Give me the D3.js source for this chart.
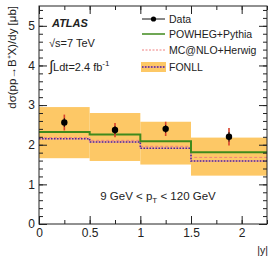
<!DOCTYPE html>
<html>
<head>
<meta charset="utf-8">
<script src="https://cdn.jsdelivr.net/npm/d3@7"></script>
<style>
  body { margin: 0; background: #fff; }
  text { font-family: "Liberation Sans", Arial, sans-serif; fill: #222; }
  .axis path { display: none; }
  .axis line { stroke: #222; }
  .axis text { font-size: 12px; fill: #222; font-family: "Liberation Sans", Arial, sans-serif; }
</style>
</head>
<body>
<div id="chart"></div>
<script>
// Bin edges in |y| and per-bin values
const binEdges = [0, 0.5, 1, 1.5, 2.25];
const dataX = [0.25, 0.75, 1.25, 1.875];
const dataY = [2.56, 2.37, 2.40, 2.20];
const dataErr = [0.20, 0.18, 0.18, 0.22];
const dataStatErr = [0.11, 0.10, 0.10, 0.12];
const powheg = [2.32, 2.26, 2.09, 1.81];
const mcatnlo = [2.18, 2.11, 1.96, 1.68];
const fonll = [2.15, 2.07, 1.91, 1.59];
const fonllHi = [2.95, 2.80, 2.58, 2.18];
const fonllLo = [1.66, 1.59, 1.50, 1.22];
const xTicks = [0, 0.5, 1, 1.5, 2];
const yTicks = [0, 1, 2, 3, 4, 5];

const width = 271, height = 258;
const margin = {top: 6, right: 4, bottom: 34, left: 39};
const innerW = width - margin.left - margin.right;
const innerH = height - margin.top - margin.bottom;

const svg = d3.select('#chart')
    .append('svg')
    .attr('width', width)
    .attr('height', height);

const g = svg.append('g')
    .attr('transform', `translate(${margin.left},${margin.top})`);

const xScale = d3.scaleLinear().domain([0, 2.25]).range([0, innerW]);
const yScale = d3.scaleLinear().domain([0, 5.5]).range([innerH, 0]);

// FONLL uncertainty band
const bins = d3.range(fonll.length);
g.selectAll('.band')
    .data(bins)
    .enter()
    .append('rect')
    .attr('x', i => xScale(binEdges[i]))
    .attr('width', i => xScale(binEdges[i + 1]) - xScale(binEdges[i]))
    .attr('y', i => yScale(fonllHi[i]))
    .attr('height', i => yScale(fonllLo[i]) - yScale(fonllHi[i]))
    .attr('fill', '#fdc866');

// Step lines
const step = d3.line()
    .x(d => xScale(d[0]))
    .y(d => yScale(d[1]))
    .curve(d3.curveStepAfter);

function stepPoints(vals) {
    const pts = vals.map((v, i) => [binEdges[i], v]);
    pts.push([binEdges[binEdges.length - 1], vals[vals.length - 1]]);
    return pts;
}

g.append('path')
    .attr('d', step(stepPoints(mcatnlo)))
    .attr('fill', 'none')
    .attr('stroke', '#f08080')
    .attr('stroke-width', 1)
    .attr('stroke-dasharray', '3,2');

g.append('path')
    .attr('d', step(stepPoints(fonll)))
    .attr('fill', 'none')
    .attr('stroke', '#ee9a9a')
    .attr('stroke-width', 1.6);

g.append('path')
    .attr('d', step(stepPoints(fonll)))
    .attr('fill', 'none')
    .attr('stroke', '#4a3090')
    .attr('stroke-width', 1.6)
    .attr('stroke-dasharray', '1.5,1.5');

g.append('path')
    .attr('d', step(stepPoints(powheg)))
    .attr('fill', 'none')
    .attr('stroke', '#3f8a1c')
    .attr('stroke-width', 2);

// Data points with error bars
const pts = g.selectAll('.pt')
    .data(bins)
    .enter()
    .append('g');

pts.append('line')
    .attr('x1', i => xScale(dataX[i]))
    .attr('x2', i => xScale(dataX[i]))
    .attr('y1', i => yScale(dataY[i] + dataErr[i]))
    .attr('y2', i => yScale(dataY[i] - dataErr[i]))
    .attr('stroke', '#d8402a')
    .attr('stroke-width', 1.6);

pts.append('line')
    .attr('x1', i => xScale(dataX[i]))
    .attr('x2', i => xScale(dataX[i]))
    .attr('y1', i => yScale(dataY[i] + dataStatErr[i]))
    .attr('y2', i => yScale(dataY[i] - dataStatErr[i]))
    .attr('stroke', '#111')
    .attr('stroke-width', 1);

pts.append('circle')
    .attr('cx', i => xScale(dataX[i]))
    .attr('cy', i => yScale(dataY[i]))
    .attr('r', 3.2)
    .attr('fill', '#000');

// Axes with inward ticks on all four sides
const xMinor = d3.range(0, 2.26, 0.25);
const yMinor = d3.range(0, 5.51, 0.2);
const fmt = d3.format('');

g.append('g').attr('class', 'axis')
    .attr('transform', `translate(0,${innerH})`)
    .call(d3.axisBottom(xScale).tickValues(xTicks).tickSize(-8).tickPadding(4).tickFormat(fmt));
g.append('g').attr('class', 'axis')
    .attr('transform', `translate(0,${innerH})`)
    .call(d3.axisBottom(xScale).tickValues(xMinor).tickSize(-4).tickFormat(''));
g.append('g').attr('class', 'axis')
    .call(d3.axisTop(xScale).tickValues(xTicks).tickSize(-8).tickFormat(''));
g.append('g').attr('class', 'axis')
    .call(d3.axisTop(xScale).tickValues(xMinor).tickSize(-4).tickFormat(''));

g.append('g').attr('class', 'axis')
    .call(d3.axisLeft(yScale).tickValues(yTicks).tickSize(-8).tickPadding(4).tickFormat(fmt));
g.append('g').attr('class', 'axis')
    .call(d3.axisLeft(yScale).tickValues(yMinor).tickSize(-4).tickFormat(''));
g.append('g').attr('class', 'axis')
    .attr('transform', `translate(${innerW},0)`)
    .call(d3.axisRight(yScale).tickValues(yTicks).tickSize(-8).tickFormat(''));
g.append('g').attr('class', 'axis')
    .attr('transform', `translate(${innerW},0)`)
    .call(d3.axisRight(yScale).tickValues(yMinor).tickSize(-4).tickFormat(''));

g.append('rect')
    .attr('width', innerW)
    .attr('height', innerH)
    .attr('fill', 'none')
    .attr('stroke', '#222')
    .attr('stroke-width', 1);

// Axis titles
svg.append('text')
    .attr('transform', 'translate(16,6) rotate(-90)')
    .attr('text-anchor', 'end')
    .style('font-size', '11.5px')
    .text('dσ(pp→B⁺X)/dy [μb]');

svg.append('text')
    .attr('x', 268)
    .attr('y', 254)
    .attr('text-anchor', 'end')
    .style('font-size', '10.5px')
    .text('|y|');

// Labels inside the plot
svg.append('text')
    .attr('x', 52).attr('y', 27)
    .style('font-size', '11px')
    .style('font-weight', 'bold')
    .style('font-style', 'italic')
    .text('ATLAS');

svg.append('text')
    .attr('x', 49).attr('y', 47)
    .style('font-size', '11px')
    .text('√s=7 TeV');

const lumi = svg.append('text')
    .attr('x', 49).attr('y', 71)
    .style('font-size', '11px');
lumi.append('tspan').style('font-size', '15px').text('∫');
lumi.append('tspan').text('Ldt=2.4 fb');
lumi.append('tspan').attr('dy', -5).style('font-size', '8px').text('-1');

const ptLabel = svg.append('text')
    .attr('x', 158).attr('y', 200)
    .attr('text-anchor', 'middle')
    .style('font-size', '11.5px');
ptLabel.append('tspan').text('9 GeV < p');
ptLabel.append('tspan').attr('dy', 3).style('font-size', '8px').text('T');
ptLabel.append('tspan').attr('dy', -3).text(' < 120 GeV');

// Legend
const legend = svg.append('g');
const lx0 = 142, lx1 = 165, tx = 169;
const rows = [19, 34, 50, 67];
const names = ['Data', 'POWHEG+Pythia', 'MC@NLO+Herwig', 'FONLL'];

legend.append('line')
    .attr('x1', lx0).attr('x2', lx1).attr('y1', rows[0]).attr('y2', rows[0])
    .attr('stroke', '#111').attr('stroke-width', 1);
legend.append('circle')
    .attr('cx', (lx0 + lx1) / 2).attr('cy', rows[0]).attr('r', 2.6).attr('fill', '#000');

legend.append('line')
    .attr('x1', lx0).attr('x2', lx1).attr('y1', rows[1]).attr('y2', rows[1])
    .attr('stroke', '#3f8a1c').attr('stroke-width', 1.5);

legend.append('line')
    .attr('x1', lx0).attr('x2', lx1).attr('y1', rows[2]).attr('y2', rows[2])
    .attr('stroke', '#f08080').attr('stroke-width', 1).attr('stroke-dasharray', '2,1.5');

legend.append('rect')
    .attr('x', 141).attr('y', rows[3] - 5).attr('width', 25).attr('height', 10)
    .attr('fill', '#fdc866');
legend.append('line')
    .attr('x1', lx0).attr('x2', lx1).attr('y1', rows[3]).attr('y2', rows[3])
    .attr('stroke', '#ee9a9a').attr('stroke-width', 1.6);
legend.append('line')
    .attr('x1', lx0).attr('x2', lx1).attr('y1', rows[3]).attr('y2', rows[3])
    .attr('stroke', '#4a3090').attr('stroke-width', 1.6).attr('stroke-dasharray', '1.5,1.5');

legend.selectAll('.lt')
    .data(names)
    .enter()
    .append('text')
    .attr('x', tx)
    .attr('y', (d, i) => rows[i] + 4)
    .style('font-size', '10.5px')
    .text(d => d);
</script>
</body>
</html>
